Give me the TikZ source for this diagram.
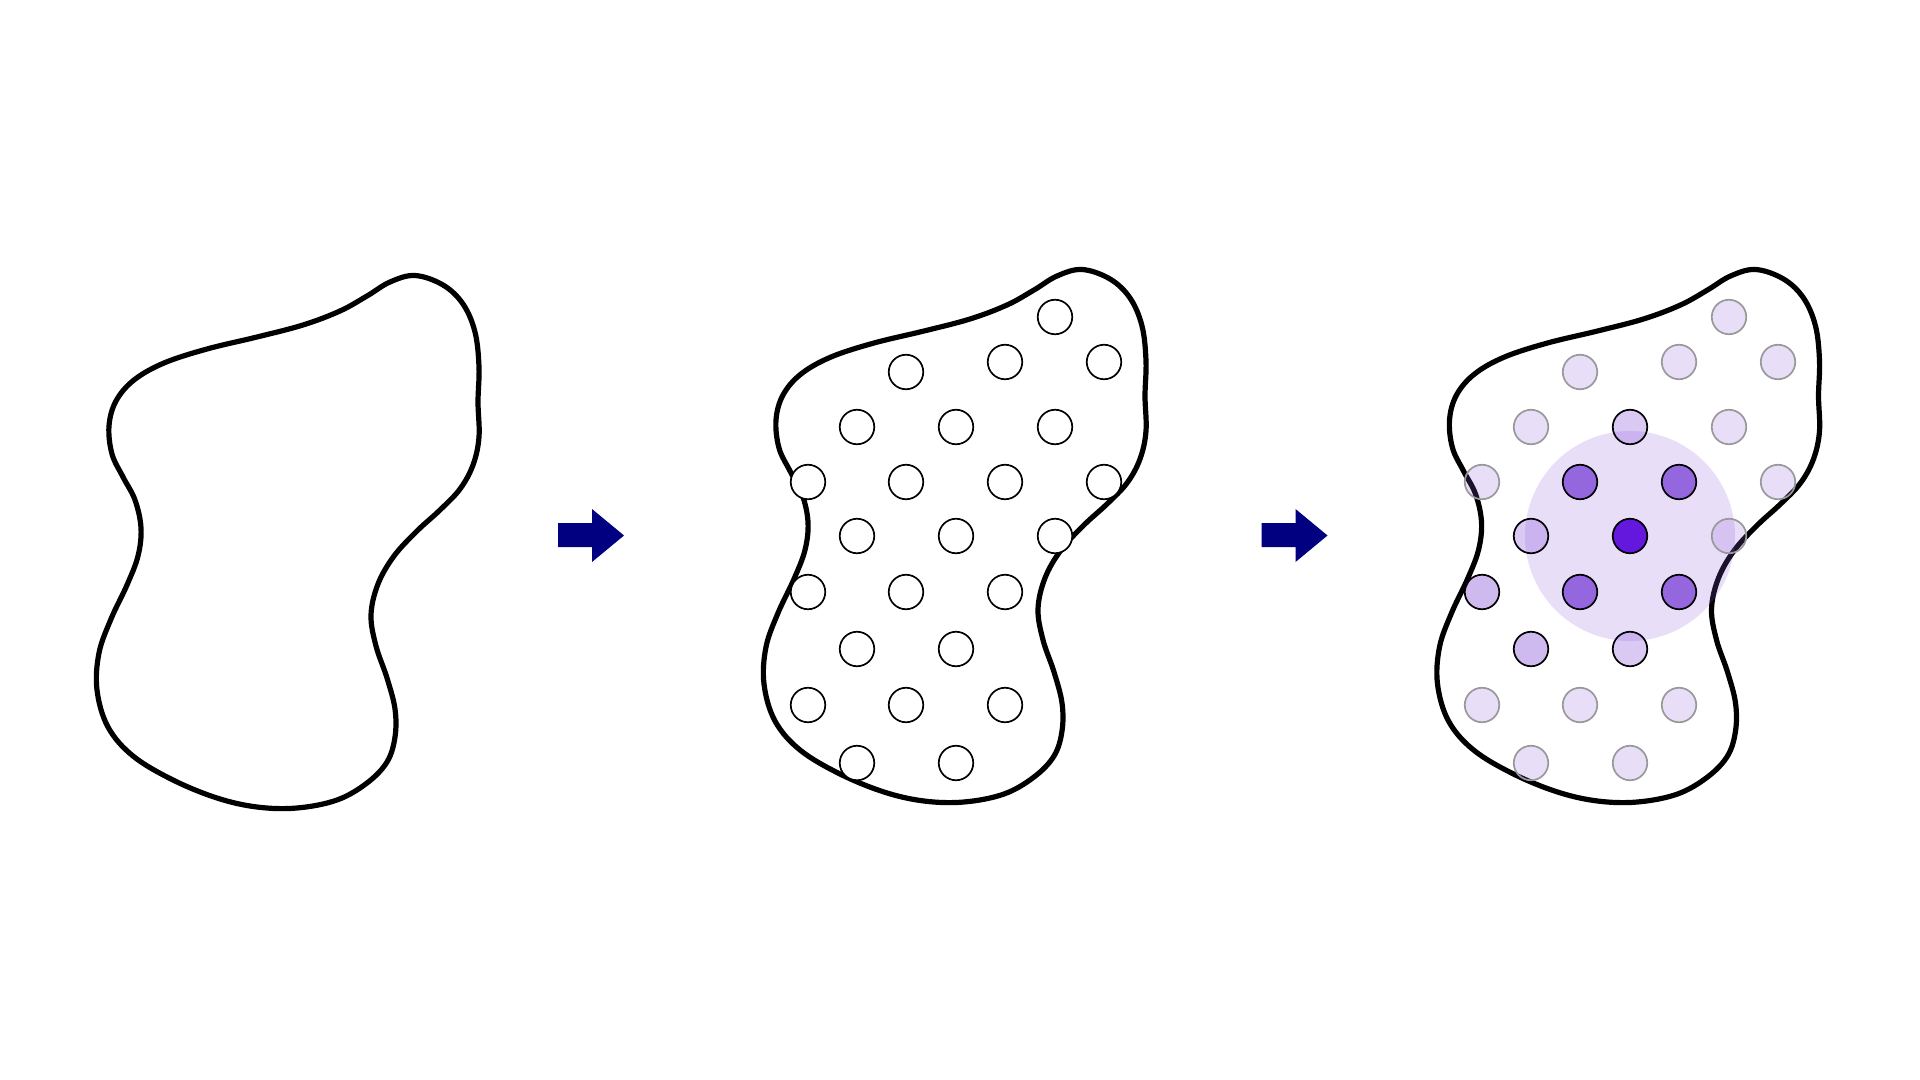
\documentclass[tikz,border=0pt]{standalone}
\usetikzlibrary{positioning}

\definecolor{sitepurple}{HTML}{8C5ADC}
\definecolor{centrepurple}{HTML}{6418DE}
\definecolor{arrownavy}{HTML}{000080}
\definecolor{farline}{HTML}{999999}

\tikzset{
  blobline/.style={line width=2.6pt, line join=round},
  site/.style={circle, draw=black, line width=0.85pt, minimum size=17.25pt, inner sep=0pt},
  emptysite/.style={site, fill=white},
  farsite/.style={site, draw=farline, fill=sitepurple, fill opacity=0.2},
  nearsite/.style={site, fill=sitepurple, fill opacity=0.33},
  nearsitedark/.style={site, fill=sitepurple, fill opacity=0.42},
  ringsite/.style={site, fill=sitepurple, fill opacity=0.9},
  centresite/.style={site, fill=centrepurple},
  neighbourhood/.style={circle, fill=sitepurple, fill opacity=0.2, minimum size=105pt, inner sep=0pt},
  blockarrow/.style={fill=arrownavy}
}

\begin{document}
\begin{tikzpicture}[x=0.5pt, y=-0.5pt]
  \useasboundingbox (0,0) rectangle (1920,1080);

  % the three domains
  \foreach \dx/\dy in {0/0, 667/-6, 1340.5/-6}
    \draw[blobline, shift={(\dx,\dy)}] plot[smooth cycle, tension=0.6] coordinates {
      (415,275.5) (443,285) (463,304) (475,332) (479,367) (478,402) (479,437)
      (473,465) (460,489) (440,510) (417,531) (394,556) (378,584) (371,615)
      (376,646) (387,678) (395,709) (395,737) (387,762) (367,783) (337,800)
      (297,808) (257,807) (217,798) (173,780) (133,756) (108,727) (97,690)
      (99,653) (111,619) (127,585) (138,556) (141,528) (135,500) (123,477)
      (112,454) (109,426) (116,401) (134,380) (164,363) (207,349) (257,337)
      (303,325) (340,311) (367,296) (390,282)};

  % arrows between the steps
  \foreach \dx in {0, 703.5}
    \fill[blockarrow, shift={(\dx,0)}] (558,523) -- (592,523) -- (592,509)
      -- (624,535.5) -- (592,562) -- (592,547) -- (558,547) -- cycle;

  % sampled points
  \foreach \x/\y [count=\i] in {1055/317, 1005/362, 1104/362, 906/372,
      857/427, 956/427, 1055/427, 808/482, 906/482, 1005/482, 1104/482,
      857/536, 956/536, 1055/536, 808/592, 906/592, 1005/592,
      857/649, 956/649, 808/705, 906/705, 1005/705, 857/763, 956/763}
    \node[emptysite] (a\i) at (\x,\y) {};

  % neighbourhood of the centre point
  \node[neighbourhood] (nbhd) at (1630,536) {};

  \foreach \x/\y/\kind [count=\i] in {1055/317/farsite, 1005/362/farsite,
      1104/362/farsite, 906/372/farsite, 857/427/farsite, 956/427/nearsite,
      1055/427/farsite, 808/482/farsite, 906/482/ringsite, 1005/482/ringsite,
      1104/482/farsite, 857/536/nearsite, 956/536/centresite, 1055/536/farsite,
      808/592/nearsitedark, 906/592/ringsite, 1005/592/ringsite,
      857/649/nearsitedark, 956/649/nearsite, 808/705/farsite, 906/705/farsite,
      1005/705/farsite, 857/763/farsite, 956/763/farsite}
    \node[\kind] (b\i) at (\x+674,\y) {};
\end{tikzpicture}
\end{document}
